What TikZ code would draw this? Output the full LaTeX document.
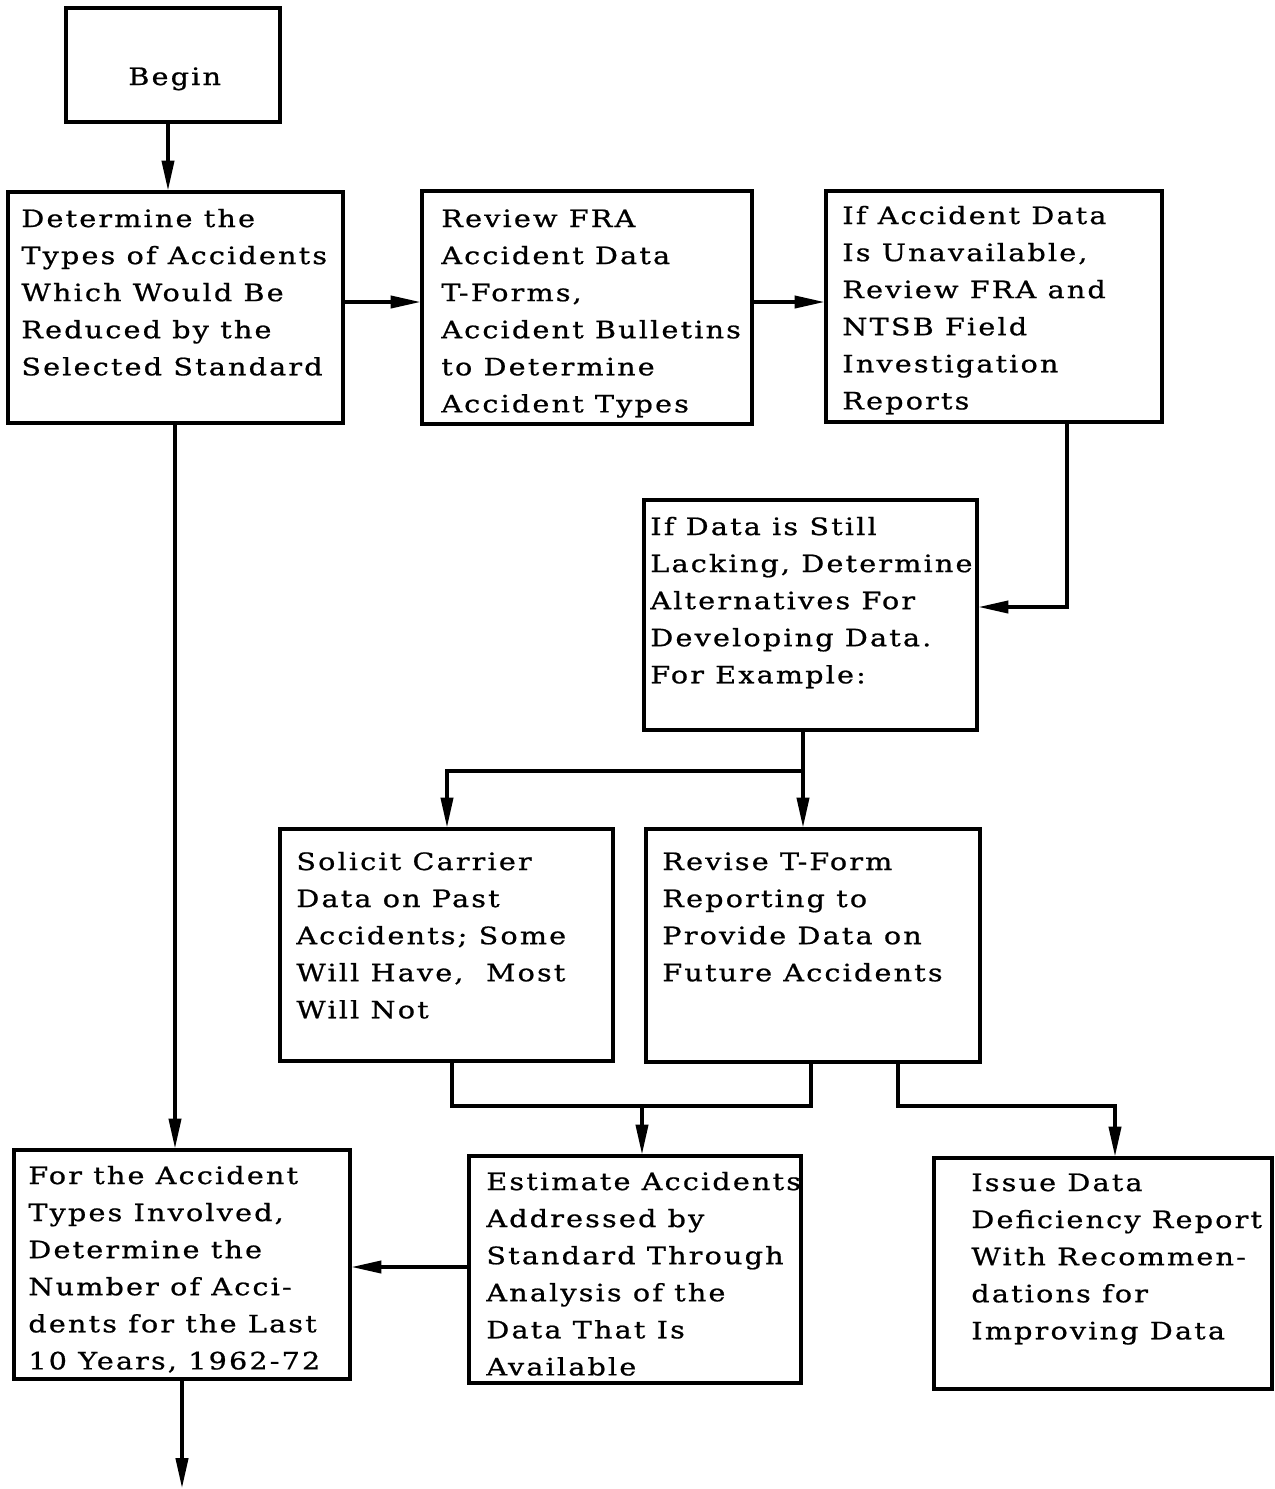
\documentclass[tikz,border=0pt]{standalone}
\usepackage{fontspec}
\setmainfont{DejaVu Serif}[LetterSpace=9,FakeStretch=1.2,FakeBold=0.8]
\usetikzlibrary{arrows.meta,fit}
\newcommand{\boxfont}{\fontsize{13.6pt}{21.1pt}\selectfont}
\newcommand{\steplines}[1]{\parbox[t]{330pt}{\raggedright #1}}
\begin{document}
\begin{tikzpicture}[x=0.02cm,y=-0.02cm,
  stepbox/.style={draw, line width=1.8pt, rectangle, inner sep=0pt},
  txt/.style={font=\boxfont, inner sep=0pt, anchor=base west},
  link/.style={line width=1.8pt},
  arr/.style={link, -{Triangle[length=17pt,width=7pt]}}]
\useasboundingbox (0,0) rectangle (1275,1489);

% process boxes
\node[stepbox, fit={(66,8) (280,122)}] (begin) {};
\node[stepbox, fit={(8,192) (343,423)}] (det) {};
\node[stepbox, fit={(422,191) (752,424)}] (rev) {};
\node[stepbox, fit={(826,191) (1162,422)}] (acc) {};
\node[stepbox, fit={(644,500) (977,730)}] (lack) {};
\node[stepbox, fit={(280,829) (613,1061)}] (sol) {};
\node[stepbox, fit={(646,829) (980,1062)}] (tform) {};
\node[stepbox, fit={(14,1150) (350,1379)}] (num) {};
\node[stepbox, fit={(469,1156) (801,1383)}] (est) {};
\node[stepbox, fit={(934,1158) (1272,1389)}] (issue) {};

% box texts
\node[txt] (t-begin) at (128,85) {Begin};
\node[txt] (t-det) at (21,227) {\steplines{Determine the\\Types of Accidents\\Which Would Be\\Reduced by the\\Selected Standard}};
\node[txt] (t-rev) at (441,227) {\steplines{Review FRA\\Accident Data\\T-Forms,\\Accident Bulletins\\to Determine\\Accident Types}};
\node[txt] (t-acc) at (842,224) {\steplines{If Accident Data\\Is Unavailable,\\Review FRA and\\NTSB Field\\Investigation\\Reports}};
\node[txt] (t-lack) at (650,535) {\steplines{If Data is Still\\Lacking, Determine\\Alternatives For\\Developing Data.\\For Example:}};
\node[txt] (t-sol) at (296,870) {\steplines{Solicit Carrier\\Data on Past\\Accidents; Some\\Will Have, \ Most\\Will Not}};
\node[txt] (t-tform) at (662,870) {\steplines{Revise T-Form\\Reporting to\\Provide Data on\\Future Accidents}};
\node[txt] (t-num) at (28,1184) {\steplines{For the Accident\\Types Involved,\\Determine the\\Number of Acci-\\dents for the Last\\10 Years, 1962-72}};
\node[txt] (t-est) at (486,1190) {\steplines{Estimate Accidents\\Addressed by\\Standard Through\\Analysis of the\\Data That Is\\Available}};
\node[txt] (t-issue) at (971,1191) {\steplines{Issue Data\\Deficiency Report\\With Recommen-\\dations for\\Improving Data}};

% routing points
\coordinate (xbegin) at (168,0);
\coordinate (xdet) at (175,0);
\coordinate (yrow) at (0,302);
\coordinate (xacc) at (1067,0);
\coordinate (ylack) at (0,607);
\coordinate (split) at (803,771);
\coordinate (xsol) at (447,0);
\coordinate (mleft) at (452,1106);
\coordinate (mright) at (811,1106);
\coordinate (mmid) at (642,1106);
\coordinate (mtf) at (898,1106);
\coordinate (xissue) at (1115,0);
\coordinate (yest) at (0,1267);
\coordinate (xnum) at (182,0);
\coordinate (outlet) at (182,1488);

% connectors
\draw[arr] (begin.south -| xbegin) -- (det.north -| xbegin);
\draw[arr] (det.east |- yrow) -- (rev.west |- yrow);
\draw[arr] (rev.east |- yrow) -- (acc.west |- yrow);
\draw[arr] (acc.south -| xacc) |- (lack.east |- ylack);
\draw[arr] (lack.south -| split) -- (tform.north -| split);
\draw[arr] (split) -| (sol.north -| xsol);
\draw[link] (sol.south -| mleft) -- (mleft) -- (mright) -- (tform.south -| mright);
\draw[arr] (mmid) -- (est.north -| mmid);
\draw[arr] (tform.south -| mtf) -- (mtf) -| (issue.north -| xissue);
\draw[arr] (det.south -| xdet) -- (num.north -| xdet);
\draw[arr] (est.west |- yest) -- (num.east |- yest);
\draw[arr] (num.south -| xnum) -- (outlet);
\end{tikzpicture}
\end{document}
